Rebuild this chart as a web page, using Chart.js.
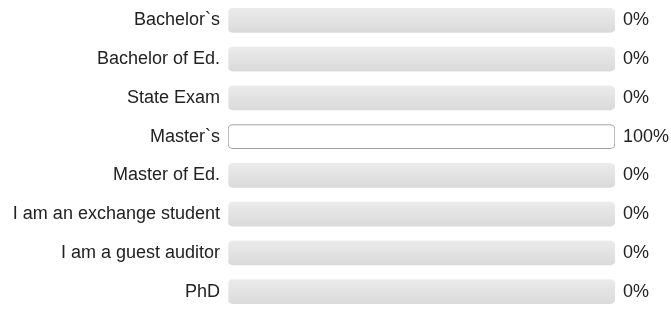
<!DOCTYPE html>
<html>
<head>
<meta charset="utf-8">
<script src="https://cdn.jsdelivr.net/npm/chart.js@4"></script>
<style>
  html, body { margin: 0; padding: 0; background: #fff; }
  #wrap { width: 671px; height: 322px; }
</style>
</head>
<body>
<div id="wrap"><canvas id="degreeChart"></canvas></div>
<script>
// Data
const degrees = ['Bachelor`s', 'Bachelor of Ed.', 'State Exam', 'Master`s', 'Master of Ed.',
    'I am an exchange student', 'I am a guest auditor', 'PhD'];
const shares = [0, 0, 0, 100, 0, 0, 0, 0];
const shareLabels = ['0%', '0%', '0%', '100%', '0%', '0%', '0%', '0%'];
const trackValues = [100, 100, 100, 100, 100, 100, 100, 100];

document.addEventListener('DOMContentLoaded', () => {
    const ctx = document.getElementById('degreeChart').getContext('2d');

    // gray track with a soft vertical gradient per bar
    function trackFill(context) {
        const chart = context.chart;
        const yScale = chart.scales.y;
        if (!yScale) return '#e2e2e2';
        const yc = yScale.getPixelForValue(context.dataIndex);
        if (!isFinite(yc)) return '#e2e2e2';
        const g = chart.ctx.createLinearGradient(0, yc - 12, 0, yc + 12);
        g.addColorStop(0, '#ebebeb');
        g.addColorStop(1, '#dadada');
        return g;
    }

    const labelFont = { family: 'Liberation Sans, Arial, sans-serif', size: 18 };

    // fixed widths, and no extra top/bottom room for the labels
    function fitSide(width) {
        return (scale) => {
            scale.width = width;
            scale.paddingTop = 0;
            scale.paddingBottom = 0;
        };
    }

    new Chart(ctx, {
        type: 'bar',
        data: {
            labels: degrees,
            datasets: [{
                label: 'Share',
                data: shares,
                backgroundColor: '#ffffff',
                borderColor: '#9a9a9a',
                borderWidth: (c) => (c.raw > 0 ? 1 : 0),
                borderSkipped: false,
                borderRadius: 5,
                barThickness: 24,
                grouped: false
            }, {
                label: 'Track',
                data: trackValues,
                backgroundColor: trackFill,
                borderWidth: 0,
                borderRadius: 5,
                borderSkipped: false,
                barThickness: 24,
                grouped: false
            }]
        },
        options: {
            indexAxis: 'y',
            responsive: true,
            maintainAspectRatio: false,
            animation: false,
            layout: { padding: { top: 1, bottom: 11, left: 0, right: 0 } },
            plugins: {
                legend: { display: false },
                tooltip: { enabled: false }
            },
            scales: {
                x: {
                    display: false,
                    min: 0,
                    max: 100
                },
                y: {
                    position: 'left',
                    grid: { display: false, tickLength: 8 },
                    border: { display: false },
                    ticks: { color: '#222222', padding: 0, font: labelFont },
                    afterFit: fitSide(228)
                },
                y2: {
                    type: 'category',
                    position: 'right',
                    labels: shareLabels,
                    offset: true,
                    grid: { display: false, tickLength: 8 },
                    border: { display: false },
                    ticks: { color: '#222222', padding: 0, font: labelFont },
                    afterFit: fitSide(56)
                }
            }
        }
    });
});
</script>
</body>
</html>
